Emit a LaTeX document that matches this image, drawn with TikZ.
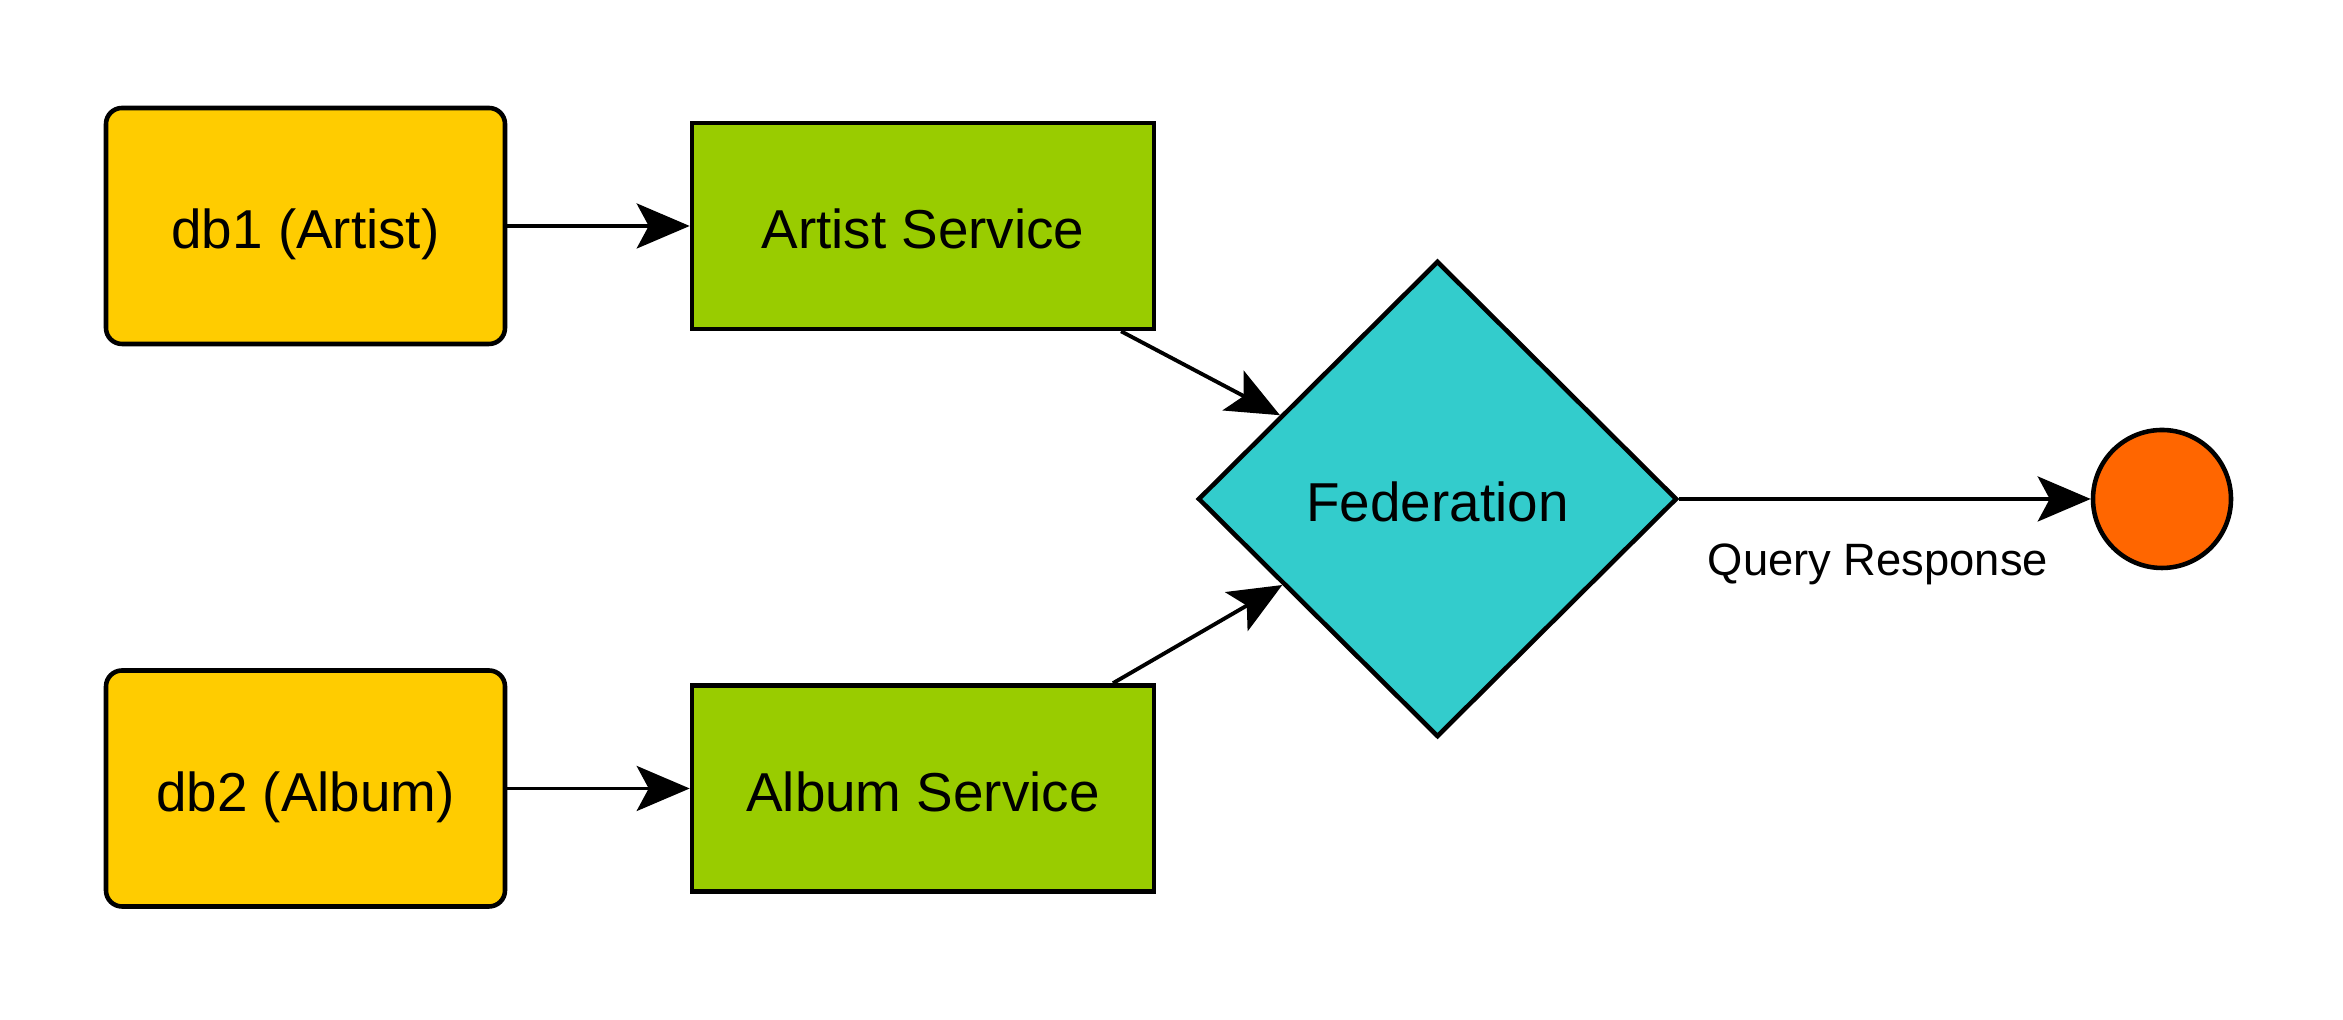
\documentclass[tikz,border=0pt]{standalone}
\usepackage{fontspec}
\setmainfont{Liberation Sans}
\usetikzlibrary{shapes.geometric,arrows.meta}
\definecolor{dbyellow}{HTML}{FFCC00}
\definecolor{svcgreen}{HTML}{99CC00}
\definecolor{fedcyan}{HTML}{33CCCC}
\definecolor{endorange}{HTML}{FF6600}
\tikzset{
  txt/.style={font=\fontsize{15.6}{18}\selectfont, text height=12.95pt, text depth=0pt},
  dbbox/.style={txt, draw=black, line width=1.3pt, fill=dbyellow, rounded corners=0.16cm,
    minimum width=3.99cm, minimum height=2.36cm, inner sep=0pt},
  svcbox/.style={txt, draw=black, line width=1.3pt, fill=svcgreen,
    minimum width=4.62cm, minimum height=2.06cm, inner sep=0pt},
  fedshape/.style={txt, diamond, aspect=1, draw=black, line width=1.3pt, fill=fedcyan,
    minimum width=4.79cm, minimum height=4.76cm, inner sep=0pt},
  endcirc/.style={circle, draw=black, line width=1.3pt, fill=endorange,
    minimum size=1.38cm, inner sep=0pt},
  conn/.style={draw=black, line width=1.1pt,
    -{Stealth[length=0.53cm, width=0.45cm, inset=0.12cm]}},
  lbl/.style={font=\fontsize{12.9}{15}\selectfont, inner sep=0pt, text height=10.7pt, text depth=0pt}
}
\begin{document}
\begin{tikzpicture}
\useasboundingbox (0,0) rectangle (23.43,10.2);
\node[dbbox] (db1) at (3.055,7.94) {db1 (Artist)};
\node[dbbox] (db2) at (3.055,2.315) {db2 (Album)};
\node[svcbox] (art) at (9.23,7.94) {Artist Service};
\node[svcbox] (alb) at (9.23,2.315) {Album Service};
\node[fedshape] (fed) at (14.375,5.21) {Federation};
\node[endcirc] (out) at (21.62,5.21) {};
\node[lbl] (qr) at (18.78,4.63) {Query Response};
\draw[conn] (db1) -- (art);
\draw[conn] (db2) -- (alb);
\draw[conn] (art.-28) -- (fed.152);
\draw[conn] (alb.29) -- (fed.209);
\draw[conn] (fed.east) -- (out.west);
\end{tikzpicture}
\end{document}
